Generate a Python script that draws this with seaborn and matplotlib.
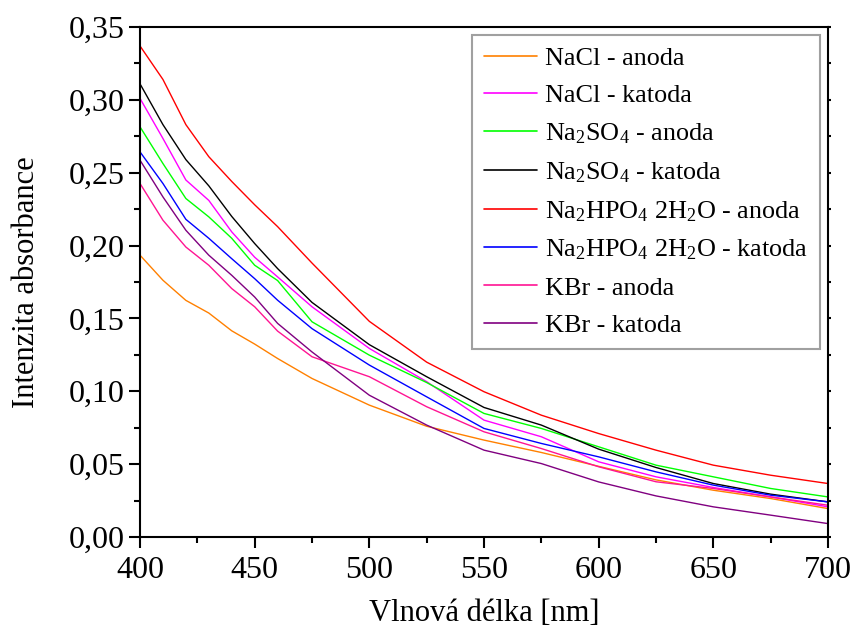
import matplotlib
matplotlib.use("Agg")
import matplotlib.pyplot as plt
from matplotlib.ticker import MultipleLocator, FuncFormatter
import seaborn as sns
import pandas as pd

# Wavelengths [nm] at which the absorbance spectra are tabulated
wavelength = [400, 410, 420, 430, 440, 450, 460, 475, 500, 525, 550, 575, 600, 625, 650, 675, 700]

nacl_anoda = [0.1934, 0.1762, 0.1624, 0.1537, 0.1415, 0.1324, 0.1225, 0.1088, 0.0905, 0.0760, 0.0665, 0.0580, 0.0485, 0.0392, 0.0321, 0.0264, 0.0195]
nacl_katoda = [0.301, 0.2735, 0.2450, 0.2310, 0.2094, 0.1920, 0.1785, 0.1580, 0.1294, 0.1066, 0.0802, 0.0688, 0.0516, 0.0413, 0.0340, 0.0275, 0.0207]
na2so4_anoda = [0.2815, 0.2563, 0.2323, 0.2197, 0.2050, 0.1865, 0.1760, 0.1477, 0.1248, 0.1060, 0.0848, 0.0745, 0.0619, 0.0493, 0.0413, 0.0333, 0.0275]
na2so4_katoda = [0.311, 0.2830, 0.2590, 0.2410, 0.2200, 0.2014, 0.1842, 0.1610, 0.1320, 0.1100, 0.0889, 0.0768, 0.0603, 0.0477, 0.0367, 0.0294, 0.0241]
na2hpo4_anoda = [0.337, 0.3140, 0.2830, 0.2610, 0.2440, 0.2280, 0.2130, 0.1880, 0.1480, 0.1200, 0.0997, 0.0836, 0.0710, 0.0596, 0.0493, 0.0424, 0.0367]
na2hpo4_katoda = [0.2643, 0.2426, 0.2180, 0.2050, 0.1910, 0.1773, 0.1625, 0.1430, 0.1180, 0.0962, 0.0745, 0.0642, 0.0550, 0.0447, 0.0356, 0.0287, 0.0241]
kbr_anoda = [0.2426, 0.2174, 0.1990, 0.1865, 0.1705, 0.1580, 0.1413, 0.1237, 0.1100, 0.0894, 0.0722, 0.0607, 0.0482, 0.0379, 0.0333, 0.0275, 0.0218]
kbr_katoda = [0.2586, 0.2334, 0.2105, 0.1934, 0.1796, 0.1647, 0.1466, 0.1270, 0.0973, 0.0768, 0.0596, 0.0504, 0.0378, 0.0282, 0.0207, 0.0150, 0.0092]

series_labels = [
    "NaCl - anoda",
    "NaCl - katoda",
    r"Na$_2$SO$_4$ - anoda",
    r"Na$_2$SO$_4$ - katoda",
    r"Na$_2$HPO$_4$ 2H$_2$O - anoda",
    r"Na$_2$HPO$_4$ 2H$_2$O - katoda",
    "KBr - anoda",
    "KBr - katoda",
]
series_values = [nacl_anoda, nacl_katoda, na2so4_anoda, na2so4_katoda,
                 na2hpo4_anoda, na2hpo4_katoda, kbr_anoda, kbr_katoda]
series_colors = ["#FF8000", "#FF00FF", "#00FF00", "#000000",
                 "#FF0000", "#0000FF", "#FF1493", "#800080"]

x_ticks = [400, 450, 500, 550, 600, 650, 700]
y_ticks = [0.00, 0.05, 0.10, 0.15, 0.20, 0.25, 0.30, 0.35]

# Long-form table for seaborn
frames = []
for label, vals in zip(series_labels, series_values):
    frames.append(pd.DataFrame({"wl": wavelength, "abs": vals, "vzorek": label}))
df = pd.concat(frames, ignore_index=True)

sns.set_style("ticks")
plt.rcParams["font.family"] = ["Liberation Serif", "DejaVu Serif"]
plt.rcParams["mathtext.fontset"] = "custom"
plt.rcParams["mathtext.rm"] = "Liberation Serif"
plt.rcParams["mathtext.it"] = "Liberation Serif:italic"
plt.rcParams["mathtext.bf"] = "Liberation Serif:bold"
plt.rcParams["text.color"] = "black"
plt.rcParams["axes.labelcolor"] = "black"
plt.rcParams["xtick.color"] = "black"
plt.rcParams["ytick.color"] = "black"

fig = plt.figure(figsize=(8.54, 6.36), dpi=100)
ax = fig.add_axes([140 / 854, 1 - 537 / 636, 688 / 854, 510 / 636])

sns.lineplot(data=df, x="wl", y="abs", hue="vzorek", hue_order=series_labels,
             palette=dict(zip(series_labels, series_colors)), linewidth=1.0,
             ax=ax, legend=True, sort=False, estimator=None)

ax.set_xlim(400, 700)
ax.set_ylim(0, 0.35)
ax.set_xticks(x_ticks)
ax.set_yticks(y_ticks)
ax.xaxis.set_minor_locator(MultipleLocator(25))
ax.yaxis.set_minor_locator(MultipleLocator(0.025))
ax.yaxis.set_major_formatter(FuncFormatter(lambda v, p: f"{v:.2f}".replace(".", ",")))

for side in ["left", "bottom", "top", "right"]:
    ax.spines[side].set_visible(True)
    ax.spines[side].set_linewidth(1.5)
    ax.spines[side].set_color("black")

ax.tick_params(axis="both", which="major", direction="out", length=8, width=1.5,
               labelsize=23, labelcolor="black", color="black")
ax.tick_params(axis="y", which="major", pad=3)
ax.tick_params(axis="x", which="major", pad=6)
ax.tick_params(axis="both", which="minor", direction="out", length=4.5, width=1.5,
               color="black")
ax.tick_params(axis="y", which="both", right=True, labelright=False)

ax.set_xlabel("Vlnová délka [nm]", fontsize=22, labelpad=10, color="black")
ax.set_ylabel("Intenzita absorbance", fontsize=22, labelpad=20, color="black")

handles, labels = ax.get_legend_handles_labels()
leg = ax.legend(handles, labels, loc="upper left",
                bbox_to_anchor=((472 - 140) / 688, (537 - 35) / 510),
                borderaxespad=0, fontsize=18.8, frameon=True, fancybox=False,
                handlelength=2.05, handletextpad=0.3, labelspacing=0.54,
                borderpad=0.45)
leg.get_frame().set_edgecolor("#888888")
leg.get_frame().set_linewidth(1.5)
for line in leg.get_lines():
    line.set_linewidth(1.2)
for txt in leg.get_texts():
    txt.set_color("black")

# right-hand spine carries tiny ticks only
for t in ax.yaxis.get_major_ticks() + ax.yaxis.get_minor_ticks():
    t.tick2line.set_markersize(2)

fig.savefig("out.png", dpi=100)
